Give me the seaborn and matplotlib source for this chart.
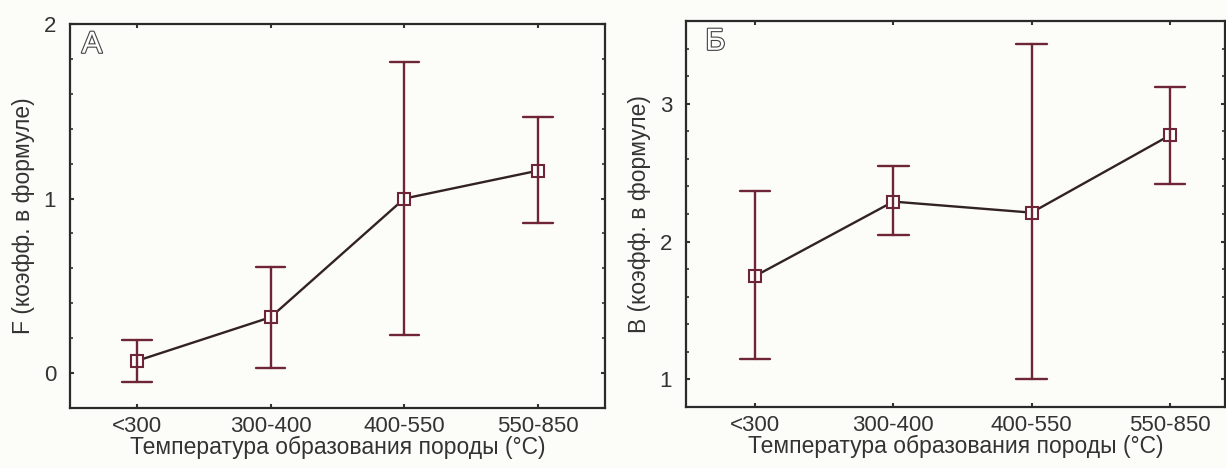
import numpy as np
import pandas as pd
import seaborn as sns
import matplotlib.pyplot as plt
import matplotlib.patheffects as pe
from matplotlib.ticker import MultipleLocator

categories = ["<300", "300-400", "400-550", "550-850"]

f_mean = [0.07, 0.32, 1.00, 1.16]
f_low = [-0.05, 0.03, 0.22, 0.86]
f_high = [0.19, 0.61, 1.78, 1.47]

b_mean = [1.75, 2.29, 2.21, 2.77]
b_low = [1.15, 2.05, 1.00, 2.42]
b_high = [2.37, 2.55, 3.43, 3.12]

xlabel = "Температура образования породы (°C)"
ylabel_a = "F (коэфф. в формуле)"
ylabel_b = "B (коэфф. в формуле)"

sns.set_theme(style="ticks")
plt.rcParams["font.family"] = ["Liberation Sans", "DejaVu Sans"]

BG = "#fcfcf8"
LINE = "#332224"
ERR = "#6e2535"


def make_df(mean, low, high):
    rows = []
    for c, m, lo, hi in zip(categories, mean, low, high):
        for v in (lo, m, hi):
            rows.append({"cat": c, "val": v})
    return pd.DataFrame(rows)


fig = plt.figure(figsize=(12.26, 4.68), dpi=100, facecolor=BG)
ax1 = fig.add_axes([70 / 1226, 1 - 408 / 468, (605 - 70) / 1226, (408 - 24) / 468])
ax2 = fig.add_axes([686 / 1226, 1 - 407 / 468, (1225 - 686) / 1226, (407 - 21) / 468])

panels = [
    (ax1, make_df(f_mean, f_low, f_high), ylabel_a, (-0.2, 2.0), (-0.5, 3.5), [0, 1, 2], "A", (0.022, 0.985)),
    (ax2, make_df(b_mean, b_low, b_high), ylabel_b, (0.8, 3.6), (-0.5, 3.4), [1, 2, 3], "Б", (0.036, 0.985)),
]

for ax, df, ylab, ylim, xlim, yticks, letter, lpos in panels:
    ax.set_facecolor(BG)
    sns.pointplot(
        data=df, x="cat", y="val", order=categories,
        estimator="median", errorbar=("pi", 100),
        color=LINE, markers="s", linestyles="-",
        capsize=0.22, linewidth=1.7,
        err_kws={"color": ERR, "linewidth": 1.7},
        markersize=8.5, markerfacecolor="white", markeredgecolor=ERR,
        markeredgewidth=1.5,
        ax=ax,
    )
    ax.set_ylim(*ylim)
    ax.set_xlim(*xlim)
    ax.set_yticks(yticks)
    ax.yaxis.set_minor_locator(MultipleLocator(0.2))
    ax.tick_params(axis="both", which="both", direction="in", top=True, right=True,
                   colors="#333333", labelcolor="#333333")
    ax.tick_params(axis="both", which="major", length=3, width=1.5, labelsize=16)
    ax.tick_params(axis="y", which="minor", length=2.5, width=1.2)
    ax.tick_params(axis="x", which="major", pad=6)
    ax.tick_params(axis="y", which="major", pad=10)
    for s in ax.spines.values():
        s.set_visible(True)
        s.set_color("#2a2a2a")
        s.set_linewidth(1.6)
    ax.set_xlabel(xlabel, fontsize=16.5, color="#333333", labelpad=-1)
    ax.set_ylabel(ylab, fontsize=16.5, color="#333333", labelpad=6)
    ax.text(lpos[0], lpos[1], letter, transform=ax.transAxes, ha="left", va="top",
            fontsize=22, color="white",
            path_effects=[pe.withStroke(linewidth=1.6, foreground="#444444")])

fig.savefig("out.png", dpi=100, facecolor=BG)
